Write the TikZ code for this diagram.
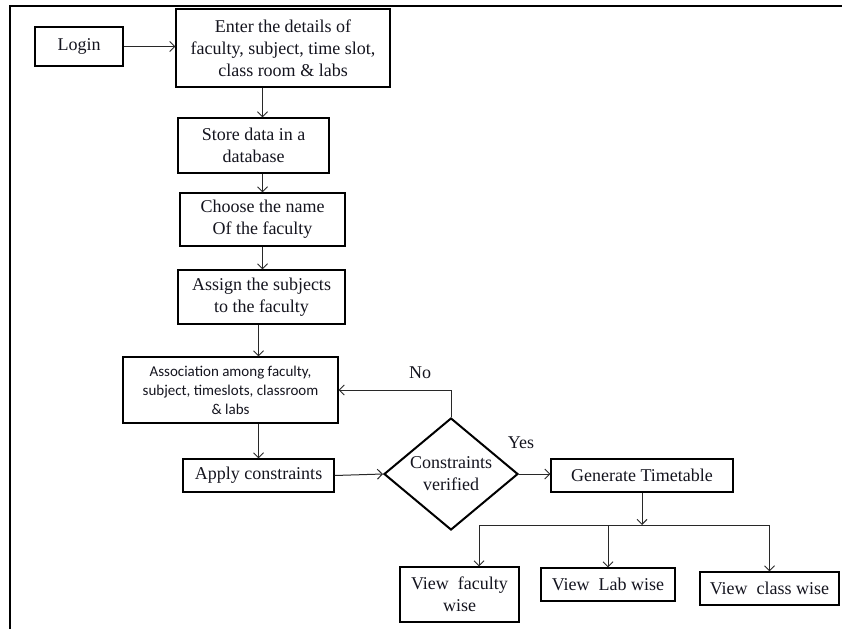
\documentclass[tikz,border=0pt]{standalone}
\usepackage{fontspec}
\setmainfont{Liberation Serif}
\newfontfamily\assocfont{Carlito}
\usepackage{tikz}
\usetikzlibrary{arrows.meta, positioning, shapes.geometric}
\definecolor{flowline}{RGB}{40, 40, 40}
\definecolor{flowtext}{RGB}{20, 20, 30}

\begin{document}
\begin{tikzpicture}[x=1pt, y=-1pt,
    stepbox/.style={draw=black, line width=1.1pt, rectangle, inner sep=2pt,
      align=center, text=flowtext, font=\fontsize{18}{22}\selectfont},
    decision/.style={draw=black, line width=2pt, diamond, aspect=1.2,
      inner sep=0pt, align=center, text=flowtext,
      font=\fontsize{18}{22}\selectfont},
    flow/.style={draw=flowline, line width=1pt,
      -{Straight Barb[length=5pt, width=10pt]}},
    link/.style={draw=flowline, line width=1pt},
    tag/.style={text=flowtext, font=\fontsize{18}{22}\selectfont}]
  \useasboundingbox (0,0) rectangle (842,629);

  % Frame
  \draw[line width=2pt] (10,629) -- (10,6) -- (842,6);

  % Input steps
  \node[stepbox, line width=2.2pt, minimum width=88pt, minimum height=39pt]
    (login) at (79,46.5) {Login};
  \node[stepbox, minimum width=214pt, minimum height=78pt] (enter) at (283,48)
    {Enter the details of\\faculty, subject, time slot,\\class room \& labs};
  \node[stepbox, minimum width=151pt, minimum height=55pt] (store) at (253.5,145.5)
    {Store data in a\\database};
  \node[stepbox, minimum width=165pt, minimum height=53pt] (choose) at (262.5,219.5)
    {Choose the name\\Of the faculty};
  \node[stepbox, minimum width=167pt, minimum height=54pt] (assign) at (261.5,297)
    {Assign the subjects\\to the faculty};
  \node[stepbox, minimum width=215pt, minimum height=66pt,
    font=\assocfont\fontsize{15}{19}\selectfont] (assoc) at (230.5,390)
    {Association among faculty,\\subject, timeslots, classroom\\\& labs};
  \node[stepbox, minimum width=151pt, minimum height=33pt] (apply) at (258.5,475.5)
    {Apply constraints};

  % Check
  \node[decision, minimum width=134pt, minimum height=112pt] (check) at (451,474)
    {Constraints\\verified};
  \node[tag] (lblno) at (420,373) {No};
  \node[tag] (lblyes) at (521,443) {Yes};

  % Output
  \node[stepbox, minimum width=182pt, minimum height=33pt] (gen) at (642,475.5)
    {Generate Timetable};
  \node[stepbox, minimum width=119pt, minimum height=55pt] (fac) at (459.5,594.5)
    {View~ faculty\\wise};
  \node[stepbox, minimum width=134pt, minimum height=33pt] (lab) at (608,584.5)
    {View~ Lab wise};
  \node[stepbox, minimum width=139pt, minimum height=33pt] (cls) at (769.5,588.5)
    {View~ class wise};

  % Connectors
  \draw[flow] (login.east) -- (enter.west |- login.east);
  \draw[flow] (enter.south -| choose.north) -- (store.north -| choose.north);
  \draw[flow] (store.south -| choose.north) -- (choose.north);
  \draw[flow] (choose.south) -- (assign.north -| choose.south);
  \draw[flow] (assign.south -| apply.north) -- (assoc.north -| apply.north);
  \draw[flow] (assoc.south -| apply.north) -- (apply.north);
  \draw[flow] (apply.east) -- (check.west);
  \draw[flow] (check.north) |- (assoc.east);
  \draw[flow] (check.east) -- (gen.west |- check.east);

  % Split
  \coordinate (bus) at (gen.south |- 0,525);
  \coordinate (busl) at (479,525);
  \coordinate (busr) at (cls.north |- bus);
  \draw[flow] (gen.south) -- (bus);
  \draw[link] (busl) -- (busr);
  \draw[flow] (busl) -- (busl |- fac.north);
  \draw[flow] (lab.north |- bus) -- (lab.north);
  \draw[flow] (busr) -- (cls.north);
\end{tikzpicture}
\end{document}
